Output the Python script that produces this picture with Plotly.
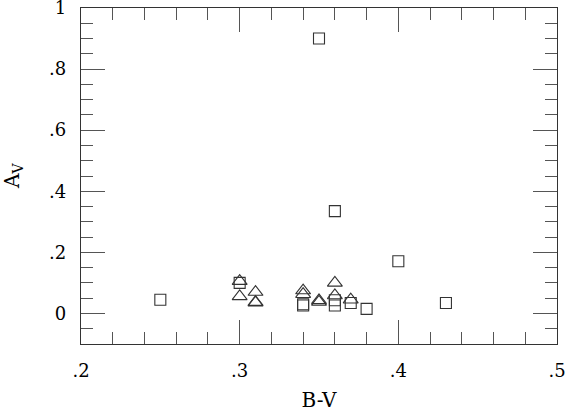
"""B-V 색지수 대비 소광(A_V) 산점도"""
import plotly.graph_objects as go

# 네모 기호 자료
square_bv = [0.25, 0.30, 0.34, 0.34, 0.35, 0.36, 0.36, 0.36, 0.37, 0.38, 0.40, 0.43]
square_av = [0.045, 0.10, 0.026, 0.030, 0.90, 0.335, 0.043, 0.026, 0.034, 0.015, 0.171, 0.034]

# 세모 기호 자료
tri_bv = [0.30, 0.30, 0.31, 0.31, 0.31, 0.34, 0.34, 0.35, 0.35, 0.36, 0.36, 0.37]
tri_av = [0.106, 0.056, 0.070, 0.037, 0.035, 0.075, 0.063, 0.043, 0.038, 0.100, 0.059, 0.045]

x_ticks = [0.2, 0.3, 0.4, 0.5]
x_labels = [".2", ".3", ".4", ".5"]
y_ticks = [0, 0.2, 0.4, 0.6, 0.8, 1.0]
y_labels = ["0", ".2", ".4", ".6", ".8", "1"]

ink = "#333333"

fig = go.Figure()
fig.add_trace(go.Scatter(
    x=square_bv, y=square_av, mode="markers",
    marker=dict(symbol="square-open", size=11, color=ink, line=dict(width=1.1)),
))
fig.add_trace(go.Scatter(
    x=tri_bv, y=tri_av, mode="markers",
    marker=dict(symbol="triangle-up-open", size=13, color=ink, line=dict(width=1.1)),
))

axis_common = dict(
    showgrid=False, zeroline=False, showline=True, linecolor=ink, linewidth=1.3,
    mirror="allticks", ticks="inside", ticklen=24, tickwidth=1.2, tickcolor="#555555",
    tickfont=dict(size=18, color="black"), automargin=False,
    ticklabeloverflow="allow", ticklabelstandoff=10,
)

fig.update_xaxes(
    range=[0.2, 0.5], tickmode="array", tickvals=x_ticks, ticktext=x_labels,
    minor=dict(tickmode="linear", tick0=0.2, dtick=0.02, ticks="inside", ticklen=12,
               tickwidth=1.2, tickcolor="#555555"),
    title=dict(text="B-V", font=dict(size=20)),
    **axis_common,
)
fig.update_yaxes(
    range=[-0.1, 1.0], tickmode="array", tickvals=y_ticks, ticktext=y_labels,
    minor=dict(tickmode="linear", tick0=0, dtick=0.05, ticks="inside", ticklen=12,
               tickwidth=1.2, tickcolor="#555555"),
    **axis_common,
)

# 세로축 제목은 위치를 맞추려고 주석으로 둔다
fig.add_annotation(
    text="A<sub>V</sub>", textangle=-90, showarrow=False,
    xref="paper", yref="paper", x=0, y=0.5, xanchor="center", yanchor="middle",
    xshift=-68, font=dict(size=20, color="black"),
)

fig.update_layout(
    width=565, height=412,
    margin=dict(l=81, r=8, t=8, b=68),
    plot_bgcolor="white", paper_bgcolor="white",
    font=dict(family="DejaVu Serif", color="black"),
    showlegend=False,
)

fig.write_html(
    "out.html",
    config={"displayModeBar": False},
    post_script="document.body.style.margin='0';",
)
